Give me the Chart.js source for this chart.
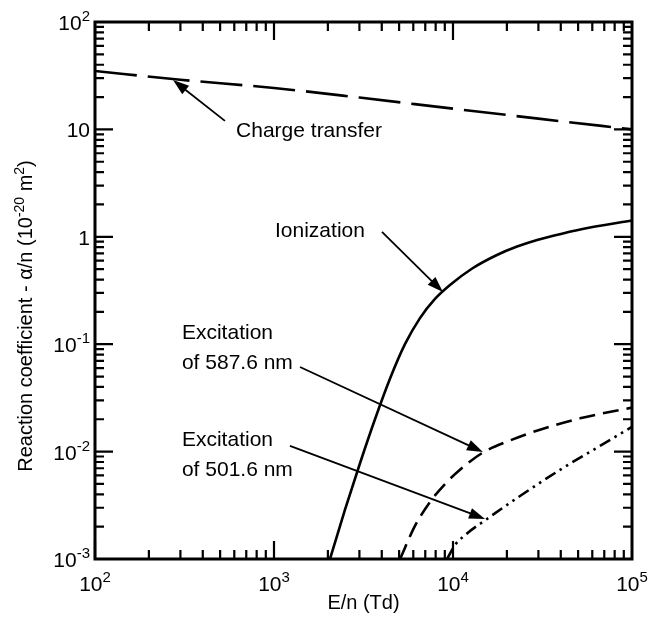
<!DOCTYPE html>
<html>
<head>
<meta charset="utf-8">
<style>
  html, body { margin: 0; padding: 0; background: #fff; }
  #wrap { width: 660px; height: 619px; }
</style>
<script src="https://cdn.jsdelivr.net/npm/chart.js@4/dist/chart.umd.min.js"></script>
</head>
<body>
<div id="wrap"><canvas id="chart"></canvas></div>
<script>
// --- Data (E/n in Td, alpha/n in 1e-20 m^2) ---
const chargeE = [100, 300, 1000, 3000, 10000, 30000, 100000];
const chargeA = [35, 29, 24.3, 19.8, 15.6, 12.6, 10];

const ionE = [2055, 2490, 3020, 3670, 4450, 5390, 6540, 7930, 9620, 12800, 17600, 22800, 29500, 40600, 58300, 100000];
const ionA = [0.001, 0.00286, 0.00775, 0.0201, 0.0479, 0.1, 0.175, 0.264, 0.356, 0.507, 0.677, 0.811, 0.934, 1.07, 1.22, 1.42];

const exc587E = [5060, 6130, 7440, 9020, 10940, 14710, 20820, 30620, 51220, 100000];
const exc587A = [0.001, 0.00203, 0.0034, 0.00499, 0.00678, 0.00981, 0.0127, 0.016, 0.0204, 0.0257];

const exc501E = [9260, 10260, 11670, 15490, 23680, 41170, 66260, 100000];
const exc501A = [0.001, 0.00135, 0.00167, 0.00236, 0.00386, 0.00704, 0.0113, 0.017];

// tick labels: [base, exponent]
const xTickValues = [1e2, 1e3, 1e4, 1e5];
const xTickLabels = [['10', '2'], ['10', '3'], ['10', '4'], ['10', '5']];
const yTickValues = [1e-3, 1e-2, 1e-1, 1, 10, 100];
const yTickLabels = [['10', '-3'], ['10', '-2'], ['10', '-1'], ['1', ''], ['10', ''], ['10', '2']];

// annotations in data coordinates
const notes = [
  { lines: ['Charge transfer'], x: 614, y: 9.66, from: [532, 12.0], to: [273, 28.8] },
  { lines: ['Ionization'], x: 1013, y: 1.13, from: [4010, 1.11], to: [8790, 0.306] },
  { lines: ['Excitation', 'of 587.6 nm'], x: 306, y: 0.127, from: [1397, 0.0614], to: [14700, 0.0099] },
  { lines: ['Excitation', 'of 501.6 nm'], x: 306, y: 0.0128, from: [1228, 0.0113], to: [15100, 0.00236] }
];

const FONT = '"Liberation Sans", Arial, Helvetica, sans-serif';

function pts(xs, ys) {
  return xs.map((v, i) => ({ x: v, y: ys[i] }));
}

// draws "base^sup" ; align: 'center' or 'right'
function drawPow(ctx, base, sup, x, y, align) {
  ctx.font = '21px ' + FONT;
  const wb = ctx.measureText(base).width;
  ctx.font = '15px ' + FONT;
  const ws = sup ? ctx.measureText(sup).width : 0;
  const total = wb + ws;
  let x0 = align === 'center' ? x - total / 2 : x - total;
  ctx.textAlign = 'left';
  ctx.font = '21px ' + FONT;
  ctx.fillText(base, x0, y);
  if (sup) {
    ctx.font = '15px ' + FONT;
    ctx.fillText(sup, x0 + wb, y - 9);
  }
}

function drawArrow(ctx, x1, y1, x2, y2) {
  const ang = Math.atan2(y2 - y1, x2 - x1);
  const len = 16, half = 5.5;
  ctx.lineWidth = 1.8;
  ctx.beginPath();
  ctx.moveTo(x1, y1);
  ctx.lineTo(x2 - Math.cos(ang) * len * 0.8, y2 - Math.sin(ang) * len * 0.8);
  ctx.stroke();
  ctx.beginPath();
  ctx.moveTo(x2, y2);
  ctx.lineTo(x2 - Math.cos(ang) * len - Math.sin(ang) * half, y2 - Math.sin(ang) * len + Math.cos(ang) * half);
  ctx.lineTo(x2 - Math.cos(ang) * len + Math.sin(ang) * half, y2 - Math.sin(ang) * len - Math.cos(ang) * half);
  ctx.closePath();
  ctx.fill();
}

const framePlugin = {
  id: 'frame',
  afterDatasetsDraw(chart) {
    const { ctx, chartArea: a, scales: { x, y } } = chart;
    ctx.save();
    ctx.strokeStyle = '#000';
    ctx.fillStyle = '#000';

    // minor + major ticks on all four sides, pointing inwards
    ctx.lineWidth = 2.2;
    ctx.beginPath();
    for (let k = 2; k < 5; k++) {
      for (let m = 1; m <= 9; m++) {
        const v = m * Math.pow(10, k);
        const px = x.getPixelForValue(v);
        const len = m === 1 ? 18 : 9;
        ctx.moveTo(px, a.bottom); ctx.lineTo(px, a.bottom - len);
        ctx.moveTo(px, a.top); ctx.lineTo(px, a.top + len);
      }
    }
    for (let k = -3; k < 2; k++) {
      for (let m = 1; m <= 9; m++) {
        const v = m * Math.pow(10, k);
        const py = y.getPixelForValue(v);
        const len = m === 1 ? 18 : 9;
        ctx.moveTo(a.left, py); ctx.lineTo(a.left + len, py);
        ctx.moveTo(a.right, py); ctx.lineTo(a.right - len, py);
      }
    }
    ctx.stroke();

    ctx.lineWidth = 3;
    ctx.strokeRect(a.left, a.top, a.right - a.left, a.bottom - a.top);

    // tick labels
    ctx.textBaseline = 'alphabetic';
    xTickValues.forEach((v, i) => {
      drawPow(ctx, xTickLabels[i][0], xTickLabels[i][1], x.getPixelForValue(v), a.bottom + 32, 'center');
    });
    yTickValues.forEach((v, i) => {
      drawPow(ctx, yTickLabels[i][0], yTickLabels[i][1], a.left - 5, y.getPixelForValue(v) + 8, 'right');
    });

    // x title
    ctx.font = '20px ' + FONT;
    ctx.textAlign = 'center';
    ctx.fillText('E/n (Td)', (a.left + a.right) / 2, 609);

    // y title, rotated, with superscripts
    const parts = [
      ['Reaction coefficient - \u03b1/n (10', 20, 0],
      ['-20', 14, -8],
      [' m', 20, 0],
      ['2', 14, -8],
      [')', 20, 0]
    ];
    let tw = 0;
    parts.forEach(p => { ctx.font = p[1] + 'px ' + FONT; tw += ctx.measureText(p[0]).width; });
    ctx.translate(32, 316);
    ctx.rotate(-Math.PI / 2);
    ctx.textAlign = 'left';
    let cx = -tw / 2;
    parts.forEach(p => {
      ctx.font = p[1] + 'px ' + FONT;
      ctx.fillText(p[0], cx, p[2]);
      cx += ctx.measureText(p[0]).width;
    });
    ctx.setTransform(1, 0, 0, 1, 0, 0);

    // annotations
    ctx.font = '21px ' + FONT;
    ctx.textAlign = 'left';
    ctx.textBaseline = 'middle';
    notes.forEach(n => {
      const tx = x.getPixelForValue(n.x), ty = y.getPixelForValue(n.y);
      n.lines.forEach((t, i) => ctx.fillText(t, tx, ty + i * 30));
      drawArrow(ctx, x.getPixelForValue(n.from[0]), y.getPixelForValue(n.from[1]),
                x.getPixelForValue(n.to[0]), y.getPixelForValue(n.to[1]));
    });
    ctx.restore();
  }
};

const lineStyle = {
  borderColor: '#000',
  borderWidth: 2.6,
  pointRadius: 0,
  fill: false,
  cubicInterpolationMode: 'monotone'
};

new Chart(document.getElementById('chart'), {
  type: 'line',
  data: {
    datasets: [
      Object.assign({ label: 'Charge transfer', data: pts(chargeE, chargeA), borderDash: [42, 11] }, lineStyle),
      Object.assign({ label: 'Ionization', data: pts(ionE, ionA) }, lineStyle),
      Object.assign({ label: 'Excitation 587.6 nm', data: pts(exc587E, exc587A), borderDash: [16, 8] }, lineStyle),
      Object.assign({ label: 'Excitation 501.6 nm', data: pts(exc501E, exc501A), borderDash: [12, 5, 2.5, 5, 2.5, 5] }, lineStyle)
    ]
  },
  options: {
    responsive: true,
    maintainAspectRatio: false,
    animation: false,
    layout: { padding: { left: 0, right: 28, top: 22, bottom: 0 } },
    plugins: { legend: { display: false }, tooltip: { enabled: false } },
    scales: {
      x: {
        type: 'logarithmic', min: 100, max: 100000,
        ticks: { display: false }, grid: { display: false }, border: { display: false },
        afterFit: s => { s.height = 60; }
      },
      y: {
        type: 'logarithmic', min: 0.001, max: 100,
        ticks: { display: false }, grid: { display: false }, border: { display: false },
        afterFit: s => { s.width = 95; }
      }
    }
  },
  plugins: [framePlugin]
});
</script>
</body>
</html>
